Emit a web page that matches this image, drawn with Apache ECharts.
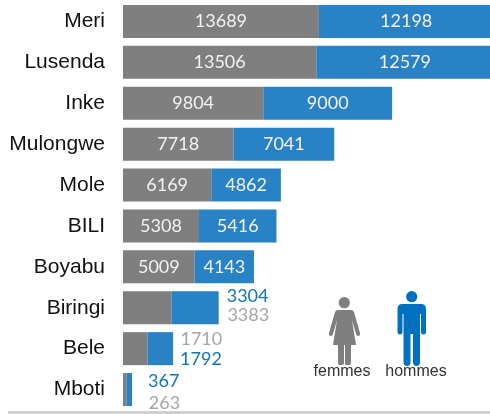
<!DOCTYPE html>
<html>
  <head>
    <meta charset="utf-8" />
    <title>Femmes et hommes par localité</title>
    <style>
      html, body { margin: 0; padding: 0; background: #fff; }
      #content { width: 490px; height: 414px; }
    </style>
  </head>
  <body>
    <div id="content"></div>
    <script src="https://cdn.jsdelivr.net/npm/echarts@6/dist/echarts.min.js"></script>
    <script type="text/javascript">
      var categories = ['Meri', 'Lusenda', 'Inke', 'Mulongwe', 'Mole', 'BILI', 'Boyabu', 'Biringi', 'Bele', 'Mboti'];
      var femmes = [13689, 13506, 9804, 7718, 6169, 5308, 5009, 3383, 1710, 263];
      var hommes = [12198, 12579, 9000, 7041, 4862, 5416, 4143, 3304, 1792, 367];

      var GREY = '#7f7f7f';
      var BLUE = '#2a82c6';
      var LABEL_GREY = '#a6a6a6';
      var LABEL_BLUE = '#0f75bd';
      var ICON_BLUE = '#0070c0';

      // the three short bars have their numbers outside, in two lines
      var outsideF = { Biringi: [56, 7], Bele: [33, -9], Mboti: [22, 14] };
      var outsideH = { Biringi: [8, -12], Bele: [7, 11], Mboti: [16, -8] };

      // pictogram outlines for the legend
      echarts.graphic.registerShape('femme', echarts.graphic.extendPath(
        'M338 310 L351 310 Q353 310 354 312 L360 333 Q360.5 336 358 336 Q356.5 336 356 334 L352 320 L356 345 L351 345 L351 363 Q351 365 349 365 L346 365 Q345 365 345 363 L345 345 L344 345 L344 363 Q344 365 342 365 L339.5 365 Q338 365 338 363 L338 345 L333 345 L337 320 L333 334 Q332.5 336 331 336 Q328.5 336 329 333 L335 312 Q336 310 338 310 Z'
      ));
      echarts.graphic.registerShape('homme', echarts.graphic.extendPath(
        'M402 304 L421 304 Q426 304 426 309 L426 332 Q426 334.5 423.5 334.5 Q421 334.5 421 332 L421 314 L420 314 L420 362 Q420 366 416.5 366 Q413 366 413 362 L413 334 L410.5 334 L410.5 362 Q410.5 366 407 366 Q403.5 366 403.5 362 L403.5 314 L402.5 314 L402.5 332 Q402.5 334.5 400 334.5 Q397.5 334.5 397.5 332 L397.5 309 Q397.5 304 402 304 Z'
      ));

      function seriesData(values, outside, color) {
        return values.map(function (v, i) {
          var off = outside[categories[i]];
          if (!off) return v;
          return {
            value: v,
            label: { position: 'right', distance: 0, offset: off, color: color, fontSize: 18 }
          };
        });
      }

      function barSeries(name, color, data) {
        return {
          name: name,
          type: 'bar',
          stack: 'total',
          barWidth: 33,
          itemStyle: { color: color },
          label: { show: true, position: 'inside', color: '#f2f2f2', fontFamily: 'Lato', fontSize: 18 },
          data: data
        };
      }

      var option = {
        animation: false,
        // Meri runs off the right edge, so the grid has to be allowed past the canvas
        grid: { left: 123, width: 370.5, top: 1, height: 409, outerBoundsMode: 'none' },
        xAxis: { type: 'value', min: 0, max: 25887, show: false },
        yAxis: {
          type: 'category',
          inverse: true,
          data: categories,
          axisLine: { show: false },
          axisTick: { show: false },
          axisLabel: {
            color: '#111',
            fontFamily: 'Liberation Sans',
            fontSize: 21,
            margin: 18
          }
        },
        series: [
          barSeries('femmes', GREY, seriesData(femmes, outsideF, LABEL_GREY)),
          barSeries('hommes', BLUE, seriesData(hommes, outsideH, LABEL_BLUE))
        ],
        graphic: [
          // bottom rule
          { type: 'rect', shape: { x: 8, y: 411, width: 482, height: 3 }, style: { fill: '#d0d0d0' } },
          // femme
          { type: 'circle', shape: { cx: 344.3, cy: 302.7, r: 5.6 }, style: { fill: GREY } },
          { type: 'femme', style: { fill: GREY } },
          { type: 'text', style: { x: 342, y: 371.5, text: 'femmes', fill: '#333', font: '16px "Liberation Sans"', align: 'center', verticalAlign: 'middle' } },
          // homme
          { type: 'circle', shape: { cx: 411.7, cy: 296.7, r: 5.6 }, style: { fill: ICON_BLUE } },
          { type: 'homme', style: { fill: ICON_BLUE } },
          { type: 'text', style: { x: 416, y: 371.5, text: 'hommes', fill: '#333', font: '16px "Liberation Sans"', align: 'center', verticalAlign: 'middle' } }
        ]
      };

      var myChart = echarts.init(document.getElementById('content'));
      myChart.setOption(option);
    </script>
  </body>
</html>
